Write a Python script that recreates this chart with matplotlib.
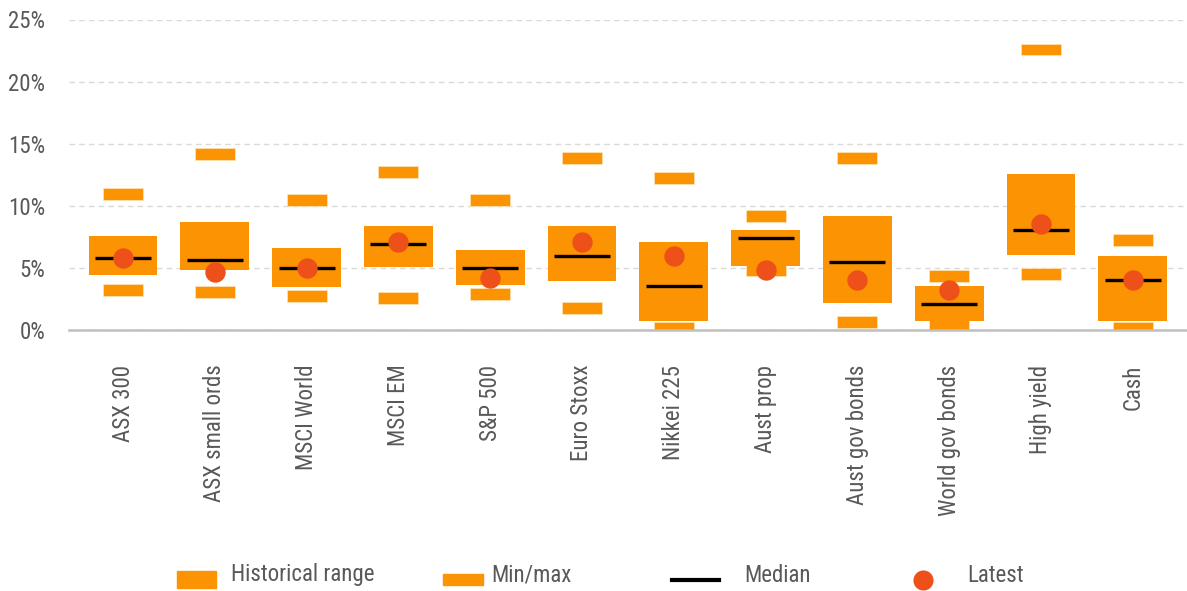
import matplotlib
matplotlib.use("Agg")
import matplotlib.pyplot as plt
from matplotlib import font_manager
from matplotlib.patches import Rectangle
from matplotlib.lines import Line2D
import numpy as np

categories = ["ASX 300", "ASX small ords", "MSCI World", "MSCI EM", "S&P 500",
              "Euro Stoxx", "Nikkei 225", "Aust prop", "Aust gov bonds",
              "World gov bonds", "High yield", "Cash"]
range_low = [4.43, 4.83, 3.49, 5.10, 3.62, 3.97, 0.75, 5.15, 2.20, 0.75, 6.07, 0.75]
range_high = [7.57, 8.70, 6.60, 8.37, 6.44, 8.37, 7.08, 8.05, 9.18, 3.54, 12.56, 5.96]
median = [5.80, 5.64, 4.99, 6.92, 4.99, 5.96, 3.54, 7.41, 5.48, 2.09, 8.05, 4.03]
latest = [5.80, 4.67, 5.00, 7.08, 4.19, 7.08, 5.96, 4.83, 4.03, 3.22, 8.53, 4.03]
max_val = [10.94, 14.18, 10.48, 12.73, 10.48, 13.86, 12.25, 9.19, 13.86, 4.34, 22.58, 7.23]
min_val = [3.21, 3.05, 2.72, 2.56, 2.89, 1.76, 0.15, 4.82, 0.63, 0.32, 4.50, 0.15]
y_ticks = [0, 5, 10, 15, 20, 25]
y_tick_labels = ["0%", "5%", "10%", "15%", "20%", "25%"]
legend_labels = ["Historical range", "Min/max", "Median", "Latest"]

ORANGE = "#FC9302"
DOT = "#EE5019"
TEXT = "#595959"

avail = {f.name for f in font_manager.fontManager.ttflist}
fam = [f for f in ["Liberation Sans Narrow", "Roboto Condensed", "Liberation Sans", "DejaVu Sans"] if f in avail]
plt.rcParams["font.family"] = fam
FS = 16.5

fig = plt.figure(figsize=(11.87, 5.91), dpi=100)
ax = fig.add_axes([69/1187, 1-330/591, 1-69/1187, (330-19.5)/591])

x = np.arange(len(categories))
lo = np.array(range_low); hi = np.array(range_high)
mx = np.array(max_val); mn = np.array(min_val)
mm_h = 0.94

ax.bar(x, mm_h, bottom=mx - mm_h/2, width=0.436, color=ORANGE, edgecolor="#FDE0B0", linewidth=0.6, zorder=2)
ax.bar(x, mm_h, bottom=mn - mm_h/2, width=0.436, color=ORANGE, edgecolor="#FDE0B0", linewidth=0.6, zorder=2)
ax.bar(x, hi - lo, bottom=lo, width=0.75, color=ORANGE, zorder=3)
ax.hlines(median, x - 0.305, x + 0.305, color="black", linewidth=2.4, zorder=4)
ax.scatter(x, latest, s=215, color=DOT, zorder=5, linewidths=0)

ax.set_xlim((69-123)/91.8, (1187-123)/91.8)
ax.set_ylim(0, 25)
ax.set_yticks(y_ticks)
ax.set_yticklabels(y_tick_labels)
ax.set_xticks(x)
ax.set_xticklabels(categories, rotation=90, va="top", ha="center")
ax.tick_params(axis="both", length=0, labelsize=FS, labelcolor=TEXT)
ax.tick_params(axis="y", pad=17)
ax.tick_params(axis="x", pad=25)
ax.yaxis.grid(True, color="#D9D9D9", linestyle=(0, (4, 3)), linewidth=1.0)
ax.set_axisbelow(True)
for s in ["top", "right", "left"]:
    ax.spines[s].set_visible(False)
ax.spines["bottom"].set_color("#BFBFBF")
ax.spines["bottom"].set_linewidth(1.8)
ax.spines["bottom"].set_zorder(6)

# legend (manual, figure pixel coordinates)
W, H = 1187, 591
def fx(px): return px / W
def fy(py): return 1 - py / H
fig.patches.append(Rectangle((fx(177), fy(588)), 39/W, 17/H, transform=fig.transFigure, color=ORANGE))
fig.patches.append(Rectangle((fx(443), fy(584.5)), 40/W, 11/H, transform=fig.transFigure, color=ORANGE))
fig.lines.append(Line2D([fx(672), fx(719)], [fy(579.5), fy(579.5)], transform=fig.transFigure, color="black", linewidth=3))
fig.lines.append(Line2D([fx(923)], [fy(580)], transform=fig.transFigure, marker="o", markersize=14.5,
                        color=DOT, markeredgewidth=0, linestyle="none"))
for px, lab in zip([231, 491, 744, 967], legend_labels):
    fig.text(fx(px), fy(575), lab, fontsize=FS, color=TEXT, ha="left", va="center")

fig.savefig("out.png", dpi=100)
print(fam)
